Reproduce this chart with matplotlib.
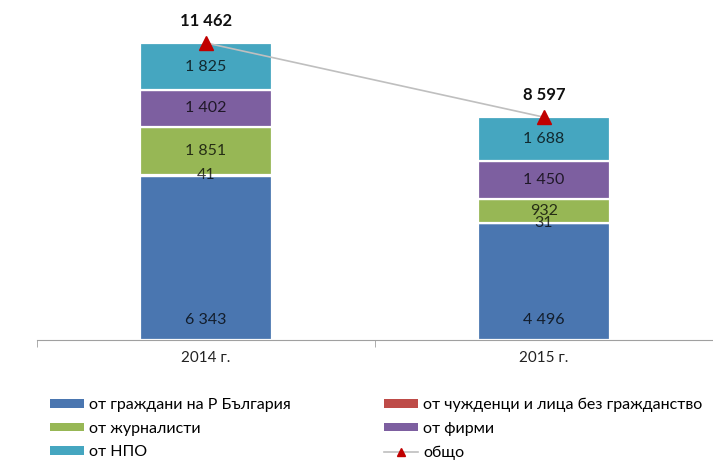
import matplotlib
matplotlib.use("Agg")
import matplotlib.pyplot as plt
from matplotlib.patches import Patch
from matplotlib.lines import Line2D
import numpy as np

plt.rcParams['font.family'] = ['Lato', 'DejaVu Sans']

years = ["2014 г.", "2015 г."]
citizens = [6343, 4496]
foreigners = [41, 31]
journalists = [1851, 932]
firms = [1402, 1450]
ngo = [1825, 1688]
totals = [11462, 8597]

series = [
    ("от граждани на Р България", citizens, "#4A76B0"),
    ("от чужденци и лица без гражданство", foreigners, "#BE4B48"),
    ("от журналисти", journalists, "#97B755"),
    ("от фирми", firms, "#7D5FA0"),
    ("от НПО", ngo, "#45A6C0"),
]


def fmt(v):
    return f"{v:,}".replace(",", " ")


fig = plt.figure(figsize=(7.13, 4.66), dpi=100)
ax = fig.add_axes([37 / 713, 126 / 466, 676 / 713, 311 / 466])

YMAX = 12000
x = np.arange(len(years))
width = 0.39
bottom = np.zeros(len(years))
handles = {}
for i, (name, vals, color) in enumerate(series):
    vals = np.array(vals, dtype=float)
    ax.bar(x, vals, width, bottom=bottom, color=color,
           edgecolor="white", linewidth=1.6, label=name)
    handles[name] = Patch(facecolor=color, edgecolor="none")
    for xi, b, v in zip(x, bottom, vals):
        if i == 0:
            # first series labelled near the base of the bar
            y = b + 20 * YMAX / 311
        else:
            y = b + v / 2
        ax.text(xi, y, fmt(int(v)), ha="center", va="center",
                fontsize=11.5, color="black", alpha=0.75)
    bottom += vals

ax.plot(x, totals, color="#BFBFBF", linewidth=1.2, zorder=3)
ax.plot(x, totals, linestyle="none", marker="^", markersize=10,
        color="#C00000", zorder=4)
for xi, t in zip(x, totals):
    ax.annotate(fmt(t), (xi, t), xytext=(0, 10), textcoords="offset points",
                ha="center", va="bottom", fontsize=12, fontweight="bold",
                color="#111111")

ax.set_xlim(-0.5, 1.5)
ax.set_ylim(0, YMAX)
ax.set_xticks(x)
ax.set_xticklabels(years, fontsize=11, color="#222222")
ax.set_xticks([-0.5, 0.5, 1.5], minor=True)
ax.tick_params(axis="x", which="major", length=0, pad=8)
ax.tick_params(axis="x", which="minor", length=5, color="#A0A0A0", direction="out")
ax.set_yticks([])
for s in ["left", "right", "top"]:
    ax.spines[s].set_visible(False)
ax.spines["bottom"].set_color("#A0A0A0")

total_handle = Line2D([0], [0], color="#BFBFBF", linewidth=1.2, marker="^",
                      markersize=6, markerfacecolor="#C00000",
                      markeredgecolor="#C00000")

left_names = ["от граждани на Р България", "от журналисти", "от НПО"]
right_names = ["от чужденци и лица без гражданство", "от фирми"]

leg_kw = dict(loc="upper left", frameon=False, fontsize=11.5, handlelength=2.1,
              handleheight=0.45, labelspacing=0.6, handletextpad=0.35,
              borderpad=0.0, borderaxespad=0.0)
leg1 = fig.legend([handles[n] for n in left_names], left_names,
                  bbox_to_anchor=(50 / 713, 1 - 398 / 466), **leg_kw)
leg2 = fig.legend([handles[n] for n in right_names] + [total_handle],
                  right_names + ["общо"],
                  bbox_to_anchor=(384 / 713, 1 - 398 / 466), **leg_kw)

fig.savefig("out.png", dpi=100)
